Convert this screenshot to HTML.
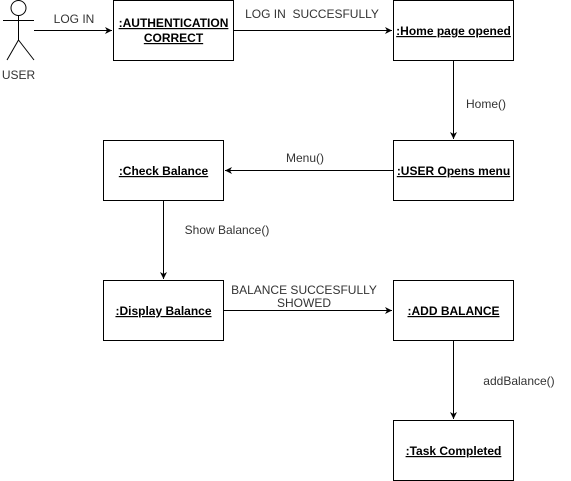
<!DOCTYPE html>
<html><head><meta charset="utf-8"><style>
html,body{margin:0;padding:0;background:#fff;}
svg{display:block;}
text{font-family:"Liberation Sans",Arial,sans-serif;font-size:12px;fill:#333;}
.b{font-weight:bold;font-size:12px;fill:#000;text-decoration:underline;}
</style></head><body>
<svg width="571" height="481" viewBox="0 0 571 481" xmlns="http://www.w3.org/2000/svg">
<defs><marker id="a" markerWidth="8" markerHeight="8" refX="7" refY="4" orient="auto" markerUnits="userSpaceOnUse"><path d="M0,0.5 L7,4 L0,7.5 L2,4 Z" fill="#000"/></marker></defs>
<g stroke="#000" stroke-width="1" fill="none">
<circle cx="18.5" cy="8" r="7.5"/>
<line x1="18.5" y1="15.5" x2="18.5" y2="40"/>
<line x1="3" y1="20.5" x2="34" y2="20.5"/>
<line x1="18.5" y1="40" x2="7" y2="60"/>
<line x1="18.5" y1="40" x2="34" y2="60"/>
<rect x="113.5" y="0.5" width="120" height="60"/>
<rect x="393.5" y="0.5" width="120" height="60"/>
<rect x="393.5" y="140.5" width="120" height="60"/>
<rect x="103.5" y="140.5" width="120" height="60"/>
<rect x="103.5" y="280.5" width="120" height="60"/>
<rect x="393.5" y="280.5" width="120" height="60"/>
<rect x="393.5" y="420.5" width="120" height="60"/>
<line x1="34" y1="30.5" x2="112" y2="30.5" marker-end="url(#a)"/>
<line x1="234" y1="30.5" x2="392" y2="30.5" marker-end="url(#a)"/>
<line x1="453.5" y1="61" x2="453.5" y2="139" marker-end="url(#a)"/>
<line x1="393" y1="170.5" x2="225" y2="170.5" marker-end="url(#a)"/>
<line x1="163.5" y1="201" x2="163.5" y2="279" marker-end="url(#a)"/>
<line x1="224" y1="310.5" x2="392" y2="310.5" marker-end="url(#a)"/>
<line x1="453.5" y1="341" x2="453.5" y2="419" marker-end="url(#a)"/>
</g>
<text x="18.5" y="79" text-anchor="middle">USER</text>
<text x="74" y="23" text-anchor="middle">LOG IN</text>
<text x="312" y="18" text-anchor="middle" xml:space="preserve">LOG IN  SUCCESFULLY</text>
<text x="486" y="108" text-anchor="middle">Home()</text>
<text x="305" y="162" text-anchor="middle">Menu()</text>
<text x="227" y="234" text-anchor="middle">Show Balance()</text>
<text x="304" y="294" text-anchor="middle">BALANCE SUCCESFULLY</text>
<text x="304" y="307" text-anchor="middle">SHOWED</text>
<text x="519" y="385" text-anchor="middle">addBalance()</text>
<text class="b" x="173.5" y="27" text-anchor="middle">:AUTHENTICATION</text>
<text class="b" x="173.5" y="42" text-anchor="middle">CORRECT</text>
<text class="b" x="453.5" y="35" text-anchor="middle">:Home page opened</text>
<text class="b" x="453.5" y="175" text-anchor="middle">:USER Opens menu</text>
<text class="b" x="163.5" y="175" text-anchor="middle">:Check Balance</text>
<text class="b" x="163.5" y="315" text-anchor="middle">:Display Balance</text>
<text class="b" x="453.5" y="315" text-anchor="middle">:ADD BALANCE</text>
<text class="b" x="453.5" y="455" text-anchor="middle">:Task Completed</text>
</svg>
</body></html>
